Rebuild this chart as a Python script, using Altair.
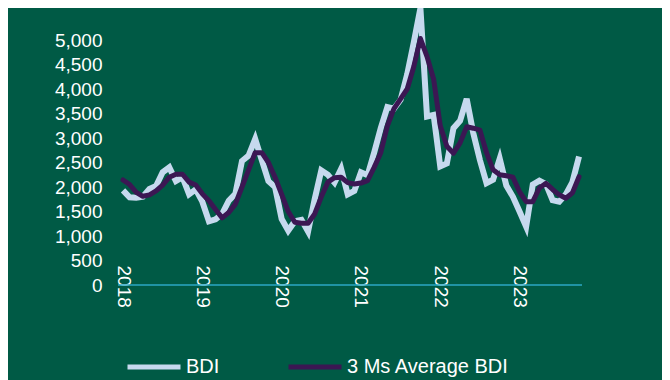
import altair as alt
import pandas as pd

# Month index 0 = Jan 2018
months = list(range(70))
bdi = [1930, 1790, 1780, 1800, 1960, 2020, 2300, 2400, 2120, 2200,
       1850, 1950, 1700, 1300, 1340, 1450, 1720, 1860, 2530, 2640,
       2980, 2550, 2120, 2000, 1350, 1110, 1300, 1330, 1090, 1750,
       2340, 2250, 2090, 2370, 1850, 1920, 2300, 2240, 2700, 3200,
       3630, 3600, 3780, 4300, 4950, 5650, 3440, 3470, 2420, 2480,
       3200, 3350, 3800, 3100, 2550, 2080, 2150, 2580, 2030, 1800,
       1500, 1190, 2050, 2130, 2060, 1730, 1700, 1850, 2100, 2620]
avg3 = [2143, 2050, 1890, 1810, 1840, 1920, 2040, 2200, 2260, 2260,
        2100, 2040, 1860, 1720, 1540, 1370, 1480, 1650, 2000, 2350,
        2700, 2700, 2500, 2200, 1850, 1500, 1280, 1260, 1260, 1450,
        1800, 2100, 2190, 2200, 2090, 2060, 2080, 2130, 2400, 2700,
        3250, 3600, 3800, 4000, 4460, 5030, 4660, 4200, 3250, 2830,
        2690, 2900, 3230, 3200, 3160, 2700, 2350, 2250, 2230, 2200,
        1900, 1700, 1700, 1980, 2075, 1950, 1840, 1770, 1880, 2210]
series_names = ["BDI", "3 Ms Average BDI"]
series_colors = ["#c6d9ee", "#3b1753"]
year_ticks = [0, 12, 24, 36, 48, 60]
y_ticks = list(range(0, 5001, 500))

df_bdi = pd.DataFrame({"m": months, "v": bdi, "s": series_names[0]})
df_avg = pd.DataFrame({"m": months, "v": avg3, "s": series_names[1]})

FONT = "Liberation Sans"
TXT = "#ffffff"

xscale = alt.Scale(domain=[-0.76, 69.45], nice=False, zero=False)
yscale = alt.Scale(domain=[0, 5000], nice=False)

color = alt.Color(
    "s:N",
    scale=alt.Scale(domain=series_names, range=series_colors),
    legend=alt.Legend(
        title=None, orient="none", legendX=7, legendY=298,
        direction="horizontal", symbolType="stroke", symbolSize=2809,
        symbolStrokeWidth=5, labelFontSize=20, labelFont=FONT,
        labelColor=TXT, columnPadding=58, labelOffset=3, labelLimit=400,
    ),
)

x_axis = alt.Axis(
    values=year_ticks, title=None, domain=False, ticks=False, grid=False,
    labelExpr="2018 + floor(datum.value / 12)", labelAngle=90,
    labelAlign="left", labelBaseline="middle", labelPadding=-20,
    labelFontSize=19, labelFont=FONT, labelColor=TXT, labelOverlap=False,
)
y_axis = alt.Axis(
    values=y_ticks, format=",.0f", title=None, domain=False, ticks=False,
    grid=False, labelPadding=16, labelFontSize=19, labelFont=FONT,
    labelColor=TXT, labelOverlap=False,
)
x_enc = alt.X("m:Q", scale=xscale, axis=x_axis)
y_enc = alt.Y("v:Q", scale=yscale, axis=y_axis)

zero_line = alt.Chart(pd.DataFrame({"y": [0]})).mark_rule(
    color="#2ba7c4", strokeWidth=1.5
).encode(y=alt.Y("y:Q", scale=yscale, axis=y_axis), x=alt.value(0), x2=alt.value(464))

line_bdi = alt.Chart(df_bdi).mark_line(strokeWidth=6, strokeJoin="miter").encode(
    x=x_enc, y=y_enc, color=color
)
line_avg = alt.Chart(df_avg).mark_line(strokeWidth=5, strokeCap="round", strokeJoin="round").encode(
    x=x_enc, y=y_enc, color=color
)

chart = alt.layer(zero_line, line_bdi, line_avg).properties(
    width=464, height=245,
    autosize=alt.AutoSizeParams(type="none"),
    padding={"left": 110, "top": 32, "right": 80, "bottom": 100},
).configure(background="#005a45").configure_view(stroke=None)

chart.save("out.html", embed_options={"renderer": "svg", "actions": False})
